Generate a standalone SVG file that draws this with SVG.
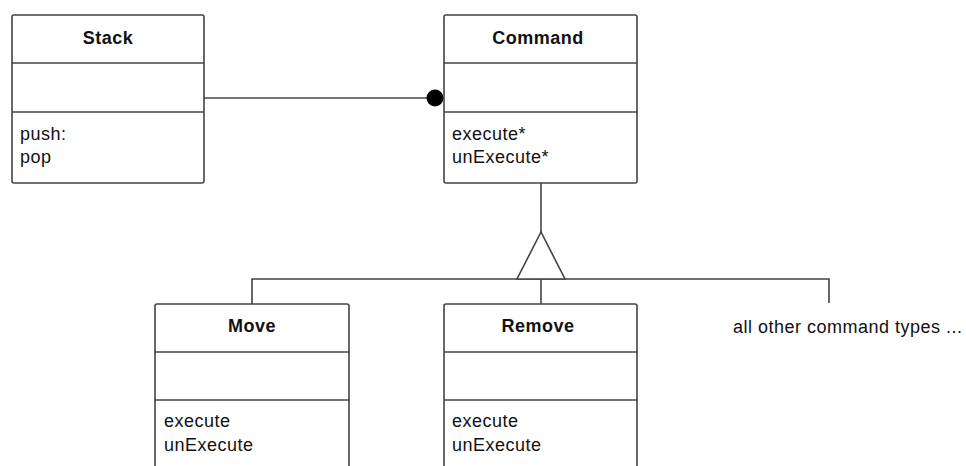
<svg xmlns="http://www.w3.org/2000/svg" width="966" height="466" viewBox="0 0 966 466">
<style>
.box{fill:#fff;stroke:#444;stroke-width:1.6}
.div{stroke:#444;stroke-width:1.6}
.ln{stroke:#444;stroke-width:1.6;fill:none}
.t{font-family:"Liberation Sans",Arial,sans-serif;font-size:18px;fill:#111;letter-spacing:0.5px}
.b{font-weight:bold;text-anchor:middle}
</style>
<rect width="966" height="466" fill="#fff"/>
<g id="connectors">
<line class="ln" x1="204" y1="98" x2="436" y2="98"/>
<circle cx="435" cy="98" r="8.5" fill="#000"/>
<line class="ln" x1="541" y1="183" x2="541" y2="232"/>
<polyline class="ln" points="252,304 252,279 829,279 829,303"/>
<line class="ln" x1="541" y1="279" x2="541" y2="304"/>
<polygon points="541,232 517,279 565,279" fill="#fff" stroke="#444" stroke-width="1.6"/>
</g>
<g id="stack">
<rect class="box" x="12" y="15" width="192" height="168" rx="2"/>
<line class="div" x1="12" y1="63" x2="204" y2="63"/>
<line class="div" x1="12" y1="112" x2="204" y2="112"/>
<text class="t b" x="108" y="44">Stack</text>
<text class="t" x="20" y="140">push:</text>
<text class="t" x="20" y="163">pop</text>
</g>
<g id="command">
<rect class="box" x="444" y="15" width="193" height="168" rx="2"/>
<line class="div" x1="444" y1="63" x2="637" y2="63"/>
<line class="div" x1="444" y1="112" x2="637" y2="112"/>
<text class="t b" x="538" y="44">Command</text>
<text class="t" x="452" y="140">execute*</text>
<text class="t" x="452" y="163">unExecute*</text>
</g>
<g id="move">
<rect class="box" x="155" y="304" width="194" height="190" rx="2"/>
<line class="div" x1="155" y1="352" x2="349" y2="352"/>
<line class="div" x1="155" y1="400" x2="349" y2="400"/>
<text class="t b" x="252" y="332">Move</text>
<text class="t" x="164" y="427">execute</text>
<text class="t" x="164" y="451">unExecute</text>
</g>
<g id="remove">
<rect class="box" x="444" y="304" width="193" height="190" rx="2"/>
<line class="div" x1="444" y1="352" x2="637" y2="352"/>
<line class="div" x1="444" y1="400" x2="637" y2="400"/>
<text class="t b" x="538" y="332">Remove</text>
<text class="t" x="452" y="427">execute</text>
<text class="t" x="452" y="451">unExecute</text>
</g>
<g id="others">
<text class="t" x="733" y="333">all other command types ...</text>
</g>
</svg>
